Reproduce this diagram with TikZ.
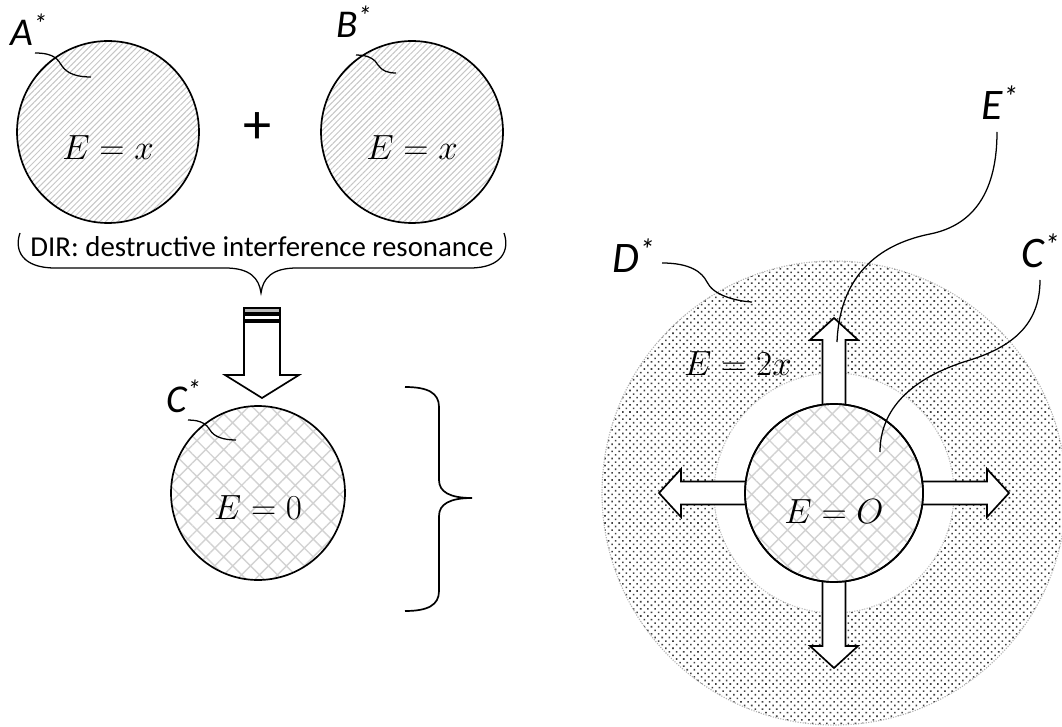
\documentclass[tikz,border=0pt]{standalone}
\usepackage{fontspec}
\setmainfont{Carlito}
\usepackage{tikz}
\usetikzlibrary{patterns.meta,positioning,calc}

\begin{document}
\begin{tikzpicture}[x=0.025cm, y=-0.025cm,
        lbl/.style={font=\fontsize{28}{32}\selectfont\itshape, inner sep=0pt},
        biglbl/.style={font=\fontsize{31}{34}\selectfont\itshape, inner sep=0pt},
        eq/.style={font=\fontsize{25}{28}\selectfont, inner sep=0pt},
        rim/.style={line width=1.2pt},
        callout/.style={line width=0.9pt},
        diag/.style={pattern={Lines[angle=45,distance=3pt,line width=0.7pt]}, pattern color=gray!45},
        cross/.style={pattern={Hatch[angle=45,distance=9pt,line width=1pt]}, pattern color=gray!35},
        dotty/.style={pattern={Dots[angle=45,distance=3.6pt,radius=0.8pt]}, pattern color=black!75},
        blk/.style={line width=1.2pt, fill=white, line join=miter},
        pics/fatarrow/.style={code={
          \draw[blk] (60,-11.5) -- (153,-11.5) -- (153,-24) -- (175,0) -- (153,24) -- (153,11.5) -- (60,11.5);
        }}
      ]
        \useasboundingbox (0,0) rectangle (1062,727);

        % Ausgangszustaende
        \draw[rim, diag] (108,132) circle (91);
        \draw[rim, diag] (412,132) circle (91);
        \node[eq, anchor=base] (eqA) at (108,160) {$E = x$};
        \node[eq, anchor=base] (eqB) at (412,160) {$E = x$};
        \node[font=\fontsize{40}{40}\selectfont] (plus) at (258,128) {+};

        \node[lbl, anchor=base west] (labA) at (10,46) {A\textsuperscript{*}};
        \node[lbl, anchor=base west] (labB) at (336,38) {B\textsuperscript{*}};
        \coordinate (pinA) at (91,77);
        \coordinate (pinB) at (396,73);
        \draw[callout] (35,53) .. controls (55,53) and (58,60) .. (62,66) .. controls (68,75) and (80,77) .. (pinA);
        \draw[callout] (356,55) .. controls (370,55) and (375,60) .. (378,65) .. controls (382,71) and (388,73) .. (pinB);

        % DIR
        \node[font=\fontsize{20.5}{24}\selectfont, anchor=base, inner sep=0pt] (dir) at (262,257)
          {DIR: destructive interference resonance};
        \draw[callout] (20,233) .. controls (14,250) and (22,268) .. (55,268) -- (225,268)
          .. controls (250,268) and (259,278) .. (261,293)
          .. controls (263,278) and (272,268) .. (297,268) -- (470,268)
          .. controls (502,268) and (510,250) .. (504,233);

        % Pfeil nach unten
        \draw[blk] (244,322) -- (244,375) -- (225,375) -- (262,398) -- (299,375) -- (280,375) -- (280,322) -- cycle;
        \draw[line width=0.9pt, fill=gray!55] (244,308) rectangle (280,313);
        \draw[line width=0.9pt] (244,315) rectangle (280,320);

        % Ergebnis C
        \draw[rim, cross] (258,493) circle (87);
        \node[eq, anchor=base] (eqC) at (258,519) {$E = 0$};
        \node[lbl, anchor=base west] (labC) at (166,412) {C\textsuperscript{*}};
        \coordinate (pinC) at (236,440);
        \draw[callout] (188,420) .. controls (202,420) and (207,425) .. (210,430) .. controls (214,437) and (224,440) .. (pinC);

        % grosse Klammer
        \draw[rim] (405,387) .. controls (428,387) and (439,393) .. (439,407) -- (439,480)
          .. controls (439,492) and (450,498) .. (472,498)
          .. controls (450,498) and (439,504) .. (439,516) -- (439,591)
          .. controls (439,605) and (428,611) .. (405,611);

        % rechtes Bild
        \coordinate (ctr) at (834,493);
        \fill[dotty] (ctr) circle (232);
        \draw[gray!60, densely dotted, line width=0.8pt] (ctr) circle (232);
        \fill[white] (ctr) circle (120);
        \draw[gray!50, densely dotted, line width=0.8pt] (ctr) circle (120);
        \foreach \ang in {0,90,180,270}
          \pic[rotate=\ang] at (ctr) {fatarrow};
        \draw[rim, fill=white] (ctr) circle (89);
        \fill[cross] (ctr) circle (89);
        \draw[rim] (ctr) circle (89);
        \node[eq, anchor=base] (eqO) at (834,523) {$E = O$};
        \node[eq, anchor=base] (eqD) at (738,375) {$E = 2x$};

        \node[biglbl, anchor=base west] (labD) at (612,273) {D\textsuperscript{*}};
        \node[biglbl, anchor=base west] (labE) at (981,120) {E\textsuperscript{*}};
        \node[biglbl, anchor=base west] (labC2) at (1021,268) {C\textsuperscript{*}};
        \coordinate (pinD) at (752,302);
        \coordinate (pinE) at (837,342);
        \coordinate (pinC2) at (880,452);
        \draw[callout] (662,263) .. controls (690,263) and (702,272) .. (707,282) .. controls (713,295) and (735,301) .. (pinD);
        \draw[callout] (997,132) .. controls (997,190) and (975,225) .. (930,234) .. controls (885,243) and (840,270) .. (pinE);
        \draw[callout] (1040,280) .. controls (1040,320) and (1018,345) .. (970,360) .. controls (910,378) and (880,410) .. (pinC2);
      \end{tikzpicture}
\end{document}
